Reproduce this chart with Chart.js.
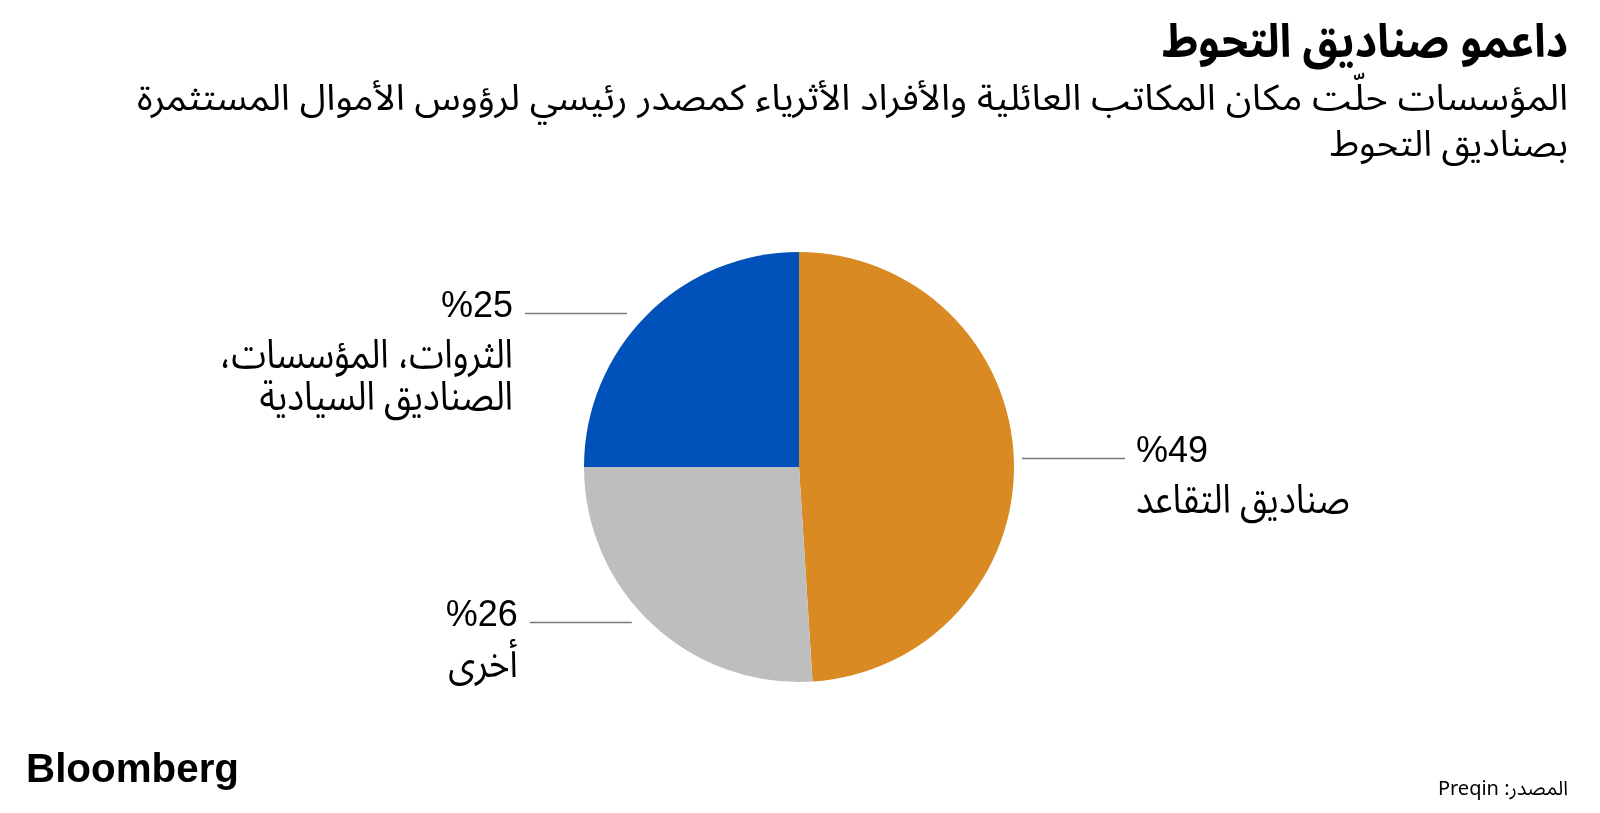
<!DOCTYPE html>
<html>
<head>
<meta charset="utf-8">
<script src="https://cdn.jsdelivr.net/npm/chart.js@4/dist/chart.umd.min.js"></script>
<style>
  body { margin: 0; background: #fff; }
  #wrap { width: 1600px; height: 813px; }
</style>
</head>
<body>
<div id="wrap"><canvas id="chartFondos" width="1600" height="813"></canvas></div>
<script>
/* datos de la grafica */
const categorias = [
  ["صناديق التقاعد"],
  ["أخرى"],
  ["الثروات، المؤسسات،", "الصناديق السيادية"],
];
const porcentajes = [49, 26, 25];
const colores = ["#DA8A23", "#BEBEBE", "#0051B9"];

const titulo = "داعمو صناديق التحوط";
const subtitulo = [
  "المؤسسات حلّت مكان المكاتب العائلية والأفراد الأثرياء كمصدر رئيسي لرؤوس الأموال المستثمرة",
  "بصناديق التحوط",
];
const fuente = "المصدر: Preqin";
const marca = "Bloomberg";

const fontAr = '"Noto Sans Arabic", "DejaVu Sans", sans-serif';
const fontLat = '"Liberation Sans", Arial, sans-serif';

/* escribe un texto ajustado a un ancho dado (comprime/estira en x) */
const textoAjustado = (ctx, texto, x, y, ancho, align) => {
  const natural = ctx.measureText(texto).width;
  const s = ancho / natural;
  ctx.save();
  ctx.translate(x, y);
  ctx.scale(s, 1);
  ctx.textAlign = align;
  ctx.fillText(texto, 0, 0);
  ctx.restore();
};

/* texto arabe algo condensado */
const textoCondensado = (ctx, texto, x, y, k, align) => {
  ctx.save();
  ctx.translate(x, y);
  ctx.scale(k, 1);
  ctx.textAlign = align;
  ctx.fillText(texto, 0, 0);
  ctx.restore();
};

const pluginTextos = {
  id: "textos",
  afterDraw(chart) {
    const ctx = chart.ctx;
    ctx.save();
    ctx.fillStyle = "#000";
    ctx.textBaseline = "alphabetic";

    // titulo y subtitulo
    ctx.direction = "rtl";
    ctx.font = "bold 46px " + fontAr;
    textoAjustado(ctx, titulo, 1568, 57, 406, "right");
    ctx.font = "36px " + fontAr;
    textoAjustado(ctx, subtitulo[0], 1568, 110, 1431, "right");
    textoAjustado(ctx, subtitulo[1], 1568, 156, 238, "right");

    // etiquetas de las porciones
    const meta = chart.getDatasetMeta(0);
    meta.data.forEach((arco, i) => {
      const p = arco.getProps(["x", "y", "startAngle", "endAngle", "outerRadius"], true);
      const medio = (p.startAngle + p.endAngle) / 2;
      const ly = Math.round(p.y + Math.sin(medio) * p.outerRadius) - 1.5;
      const derecha = Math.cos(medio) > 0;
      let x1, x2, tx, align;
      if (derecha) {
        x1 = p.x + p.outerRadius + 8;
        x2 = x1 + 103;
        tx = x2 + 11;
        align = "left";
      } else {
        x2 = p.x + Math.cos(medio) * p.outerRadius - 20;
        x1 = x2 - 102;
        tx = x1 - 12;
        align = "right";
      }
      ctx.strokeStyle = "#7a7a7a";
      ctx.lineWidth = 1.5;
      ctx.beginPath();
      ctx.moveTo(x1, ly);
      ctx.lineTo(x2, ly);
      ctx.stroke();

      ctx.direction = "ltr";
      ctx.font = "36px " + fontLat;
      ctx.textAlign = align;
      ctx.fillText("%" + porcentajes[i], tx, ly + 3);

      ctx.direction = "rtl";
      ctx.font = "40px " + fontAr;
      categorias[i].forEach((linea, j) => {
        textoCondensado(ctx, linea, tx, ly + 54 + j * 42, 0.88, align);
      });
    });

    // pie de pagina
    ctx.direction = "ltr";
    ctx.font = "bold 40px " + fontLat;
    textoAjustado(ctx, marca, 26, 782, 213, "left");

    ctx.direction = "rtl";
    ctx.font = "20px " + fontAr;
    ctx.textAlign = "right";
    ctx.fillText(fuente, 1568, 795);
    ctx.restore();
  },
};

const ctxFondos = document.getElementById("chartFondos").getContext("2d");
const chartFondos = new Chart(ctxFondos, {
  type: "pie",
  data: {
    labels: categorias,
    datasets: [
      {
        data: porcentajes,
        backgroundColor: colores,
        borderWidth: 0,
      },
    ],
  },
  options: {
    responsive: false,
    animation: false,
    layout: {
      padding: { top: 252, bottom: 131, left: 584, right: 586 },
    },
    plugins: {
      legend: { display: false },
      tooltip: { enabled: false },
    },
  },
  plugins: [pluginTextos],
});
</script>
</body>
</html>
